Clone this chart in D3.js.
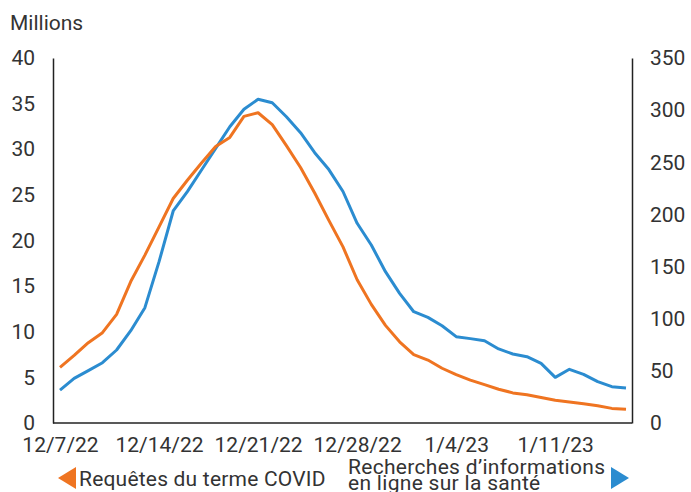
<!DOCTYPE html>
<html>
<head>
<meta charset="utf-8">
<script src="https://cdn.jsdelivr.net/npm/d3@7"></script>
<style>
  html, body { margin: 0; padding: 0; background: #fff; }
  svg { display: block; }
  text { font-family: "Roboto", "Liberation Sans", sans-serif; fill: #333; }
</style>
</head>
<body>
<script>
// ---- data ----
const dates = [
  "2022-12-07","2022-12-08","2022-12-09","2022-12-10","2022-12-11","2022-12-12","2022-12-13",
  "2022-12-14","2022-12-15","2022-12-16","2022-12-17","2022-12-18","2022-12-19","2022-12-20",
  "2022-12-21","2022-12-22","2022-12-23","2022-12-24","2022-12-25","2022-12-26","2022-12-27",
  "2022-12-28","2022-12-29","2022-12-30","2022-12-31","2023-01-01","2023-01-02","2023-01-03",
  "2023-01-04","2023-01-05","2023-01-06","2023-01-07","2023-01-08","2023-01-09","2023-01-10",
  "2023-01-11","2023-01-12","2023-01-13","2023-01-14","2023-01-15","2023-01-16"
];
// Requêtes du terme COVID (millions, left axis)
const covidQueries = [
  6.1, 7.4, 8.8, 9.9, 11.9, 15.5, 18.4,
  21.5, 24.6, 26.6, 28.5, 30.3, 31.3, 33.6,
  34.0, 32.7, 30.4, 28.0, 25.2, 22.2, 19.3,
  15.7, 13.0, 10.7, 8.9, 7.5, 6.9, 6.0,
  5.3, 4.7, 4.2, 3.7, 3.3, 3.1, 2.8,
  2.5, 2.3, 2.1, 1.9, 1.6, 1.5
];
// Recherches d'informations en ligne sur la santé (millions, right axis)
const healthSearches = [
  31.6, 42.8, 50.2, 57.8, 70.0, 88.5, 110.6,
  154.7, 203.3, 221.8, 242.6, 263.4, 284.1, 300.8,
  310.4, 307.1, 293.7, 278.4, 259.2, 243.0, 222.0,
  191.5, 170.7, 145.1, 124.3, 106.7, 101.3, 93.3,
  82.8, 80.9, 78.9, 71.0, 66.2, 63.6, 57.2,
  43.8, 51.5, 46.7, 39.6, 34.8, 33.6
];
const leftTicks = [0, 5, 10, 15, 20, 25, 30, 35, 40];
const rightTicks = [0, 50, 100, 150, 200, 250, 300, 350];
const xTickDates = ["2022-12-07","2022-12-14","2022-12-21","2022-12-28","2023-01-04","2023-01-11"];
const unitLabel = "Millions";
const legendLeft = "Requêtes du terme COVID";
const legendRight = ["Recherches d’informations", "en ligne sur la santé"];

// ---- layout ----
const W = 691, H = 492;
const FS = 21;
const ORANGE = "#EF7421", BLUE = "#2B8CD0";
const parse = d3.timeParse("%Y-%m-%d");
const fmt = d => (d.getMonth() + 1) + "/" + d.getDate() + "/" + String(d.getFullYear()).slice(2);

const svg = d3.select("body").append("svg").attr("width", W).attr("height", H);

const plotL = 53, plotR = 632, plotT = 58, plotB = 423;
const x = d3.scaleTime().domain([parse(dates[0]), parse(dates[dates.length - 1])]).range([60, 626]);
const yL = d3.scaleLinear().domain([0, 40]).range([plotB, plotT]);
const yR = d3.scaleLinear().domain([0, 350]).range([plotB, plotT]);

// left axis
const gL = svg.append("g").attr("transform", `translate(${plotL},0)`)
  .call(d3.axisLeft(yL).tickValues(leftTicks).tickSize(0).tickPadding(18));
gL.select(".domain").attr("stroke", "#222").attr("stroke-width", 1.5);
gL.selectAll("text").attr("font-size", FS).attr("fill", "#333").attr("font-family", null);

// right axis
const gR = svg.append("g").attr("transform", `translate(${plotR},0)`)
  .call(d3.axisRight(yR).tickValues(rightTicks).tickSize(0).tickPadding(18));
gR.select(".domain").attr("stroke", "#222").attr("stroke-width", 1.5);
gR.selectAll("text").attr("font-size", FS).attr("fill", "#333").attr("font-family", null);

// bottom axis
const xAxis = d3.axisBottom(x).tickValues(xTickDates.map(parse)).tickFormat(fmt).tickSize(0).tickPadding(14);
const gB = svg.append("g").attr("transform", `translate(0,${plotB})`).call(xAxis);
gB.select(".domain").remove();
gB.selectAll("text").attr("font-size", FS).attr("fill", "#333").attr("font-family", null);
svg.append("line").attr("x1", plotL).attr("x2", plotR).attr("y1", plotB).attr("y2", plotB)
  .attr("stroke", "#222").attr("stroke-width", 1.5);

// lines
const lineL = d3.line().x((d, i) => x(parse(dates[i]))).y(d => yL(d));
const lineR = d3.line().x((d, i) => x(parse(dates[i]))).y(d => yR(d));
svg.append("path").datum(healthSearches).attr("d", lineR)
  .attr("fill", "none").attr("stroke", BLUE).attr("stroke-width", 3).attr("stroke-linejoin", "round");
svg.append("path").datum(covidQueries).attr("d", lineL)
  .attr("fill", "none").attr("stroke", ORANGE).attr("stroke-width", 3).attr("stroke-linejoin", "round");

// unit label
svg.append("text").attr("x", 10).attr("y", 30).attr("font-size", FS).text(unitLabel);

// legend
svg.append("path").attr("d", "M58,478 L76,467 L76,489 Z").attr("fill", ORANGE);
svg.append("text").attr("x", 79).attr("y", 486).attr("font-size", FS)
  .attr("letter-spacing", 0.2).text(legendLeft);
svg.append("path").attr("d", "M629,478 L611,467 L611,489 Z").attr("fill", BLUE);
const lt = svg.append("text").attr("x", 348).attr("y", 474).attr("font-size", FS).attr("letter-spacing", 0.3);
lt.append("tspan").attr("x", 348).attr("y", 474).text(legendRight[0]);
lt.append("tspan").attr("x", 348).attr("y", 490).text(legendRight[1]);
</script>
</body>
</html>
